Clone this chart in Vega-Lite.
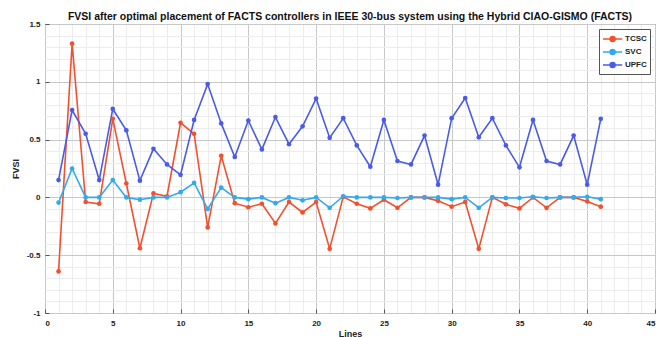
{
  "$schema": "https://vega.github.io/schema/vega-lite/v6.json",
  "autosize": "none",
  "width": 610,
  "height": 289,
  "padding": {"left": 45, "top": 24, "right": 17, "bottom": 24},
  "background": "white",
  "config": {
    "font": "Liberation Sans",
    "view": {"stroke": "#444", "strokeWidth": 1}
  },
  "title": {
    "text": "FVSI after optimal placement of FACTS controllers in IEEE 30-bus system using the Hybrid CIAO-GISMO (FACTS)",
    "fontSize": 10.5,
    "fontWeight": "bold",
    "color": "#111",
    "offset": -2
  },
  "data": {
    "values": [
      {"line": 1, "series": "TCSC", "fvsi": -0.64},
      {"line": 2, "series": "TCSC", "fvsi": 1.33},
      {"line": 3, "series": "TCSC", "fvsi": -0.04},
      {"line": 4, "series": "TCSC", "fvsi": -0.055},
      {"line": 5, "series": "TCSC", "fvsi": 0.68},
      {"line": 6, "series": "TCSC", "fvsi": 0.12},
      {"line": 7, "series": "TCSC", "fvsi": -0.44},
      {"line": 8, "series": "TCSC", "fvsi": 0.035},
      {"line": 9, "series": "TCSC", "fvsi": 0.01},
      {"line": 10, "series": "TCSC", "fvsi": 0.645},
      {"line": 11, "series": "TCSC", "fvsi": 0.55},
      {"line": 12, "series": "TCSC", "fvsi": -0.26},
      {"line": 13, "series": "TCSC", "fvsi": 0.36},
      {"line": 14, "series": "TCSC", "fvsi": -0.05},
      {"line": 15, "series": "TCSC", "fvsi": -0.085},
      {"line": 16, "series": "TCSC", "fvsi": -0.055},
      {"line": 17, "series": "TCSC", "fvsi": -0.225},
      {"line": 18, "series": "TCSC", "fvsi": -0.04},
      {"line": 19, "series": "TCSC", "fvsi": -0.13},
      {"line": 20, "series": "TCSC", "fvsi": -0.04},
      {"line": 21, "series": "TCSC", "fvsi": -0.445},
      {"line": 22, "series": "TCSC", "fvsi": 0.005},
      {"line": 23, "series": "TCSC", "fvsi": -0.055},
      {"line": 24, "series": "TCSC", "fvsi": -0.095},
      {"line": 25, "series": "TCSC", "fvsi": -0.02},
      {"line": 26, "series": "TCSC", "fvsi": -0.09},
      {"line": 27, "series": "TCSC", "fvsi": 0.0},
      {"line": 28, "series": "TCSC", "fvsi": 0.0},
      {"line": 29, "series": "TCSC", "fvsi": -0.03},
      {"line": 30, "series": "TCSC", "fvsi": -0.08},
      {"line": 31, "series": "TCSC", "fvsi": -0.04},
      {"line": 32, "series": "TCSC", "fvsi": -0.445},
      {"line": 33, "series": "TCSC", "fvsi": 0.0},
      {"line": 34, "series": "TCSC", "fvsi": -0.06},
      {"line": 35, "series": "TCSC", "fvsi": -0.095},
      {"line": 36, "series": "TCSC", "fvsi": 0.0},
      {"line": 37, "series": "TCSC", "fvsi": -0.09},
      {"line": 38, "series": "TCSC", "fvsi": 0.0},
      {"line": 39, "series": "TCSC", "fvsi": 0.0},
      {"line": 40, "series": "TCSC", "fvsi": -0.035},
      {"line": 41, "series": "TCSC", "fvsi": -0.08},
      {"line": 1, "series": "SVC", "fvsi": -0.045},
      {"line": 2, "series": "SVC", "fvsi": 0.25},
      {"line": 3, "series": "SVC", "fvsi": 0.0},
      {"line": 4, "series": "SVC", "fvsi": 0.0},
      {"line": 5, "series": "SVC", "fvsi": 0.15},
      {"line": 6, "series": "SVC", "fvsi": 0.0},
      {"line": 7, "series": "SVC", "fvsi": -0.02},
      {"line": 8, "series": "SVC", "fvsi": 0.0},
      {"line": 9, "series": "SVC", "fvsi": 0.0},
      {"line": 10, "series": "SVC", "fvsi": 0.045},
      {"line": 11, "series": "SVC", "fvsi": 0.125},
      {"line": 12, "series": "SVC", "fvsi": -0.1},
      {"line": 13, "series": "SVC", "fvsi": 0.085},
      {"line": 14, "series": "SVC", "fvsi": 0.0},
      {"line": 15, "series": "SVC", "fvsi": -0.015},
      {"line": 16, "series": "SVC", "fvsi": 0.0},
      {"line": 17, "series": "SVC", "fvsi": -0.05},
      {"line": 18, "series": "SVC", "fvsi": 0.0},
      {"line": 19, "series": "SVC", "fvsi": -0.025},
      {"line": 20, "series": "SVC", "fvsi": 0.0},
      {"line": 21, "series": "SVC", "fvsi": -0.09},
      {"line": 22, "series": "SVC", "fvsi": 0.01},
      {"line": 23, "series": "SVC", "fvsi": 0.0},
      {"line": 24, "series": "SVC", "fvsi": 0.0},
      {"line": 25, "series": "SVC", "fvsi": 0.0},
      {"line": 26, "series": "SVC", "fvsi": -0.005},
      {"line": 27, "series": "SVC", "fvsi": 0.0},
      {"line": 28, "series": "SVC", "fvsi": 0.0},
      {"line": 29, "series": "SVC", "fvsi": 0.0},
      {"line": 30, "series": "SVC", "fvsi": -0.015},
      {"line": 31, "series": "SVC", "fvsi": 0.0},
      {"line": 32, "series": "SVC", "fvsi": -0.09},
      {"line": 33, "series": "SVC", "fvsi": 0.0},
      {"line": 34, "series": "SVC", "fvsi": -0.005},
      {"line": 35, "series": "SVC", "fvsi": -0.005},
      {"line": 36, "series": "SVC", "fvsi": 0.005},
      {"line": 37, "series": "SVC", "fvsi": -0.005},
      {"line": 38, "series": "SVC", "fvsi": 0.0},
      {"line": 39, "series": "SVC", "fvsi": 0.0},
      {"line": 40, "series": "SVC", "fvsi": 0.005},
      {"line": 41, "series": "SVC", "fvsi": -0.015},
      {"line": 1, "series": "UPFC", "fvsi": 0.15},
      {"line": 2, "series": "UPFC", "fvsi": 0.755},
      {"line": 3, "series": "UPFC", "fvsi": 0.55},
      {"line": 4, "series": "UPFC", "fvsi": 0.15},
      {"line": 5, "series": "UPFC", "fvsi": 0.765},
      {"line": 6, "series": "UPFC", "fvsi": 0.58},
      {"line": 7, "series": "UPFC", "fvsi": 0.145},
      {"line": 8, "series": "UPFC", "fvsi": 0.42},
      {"line": 9, "series": "UPFC", "fvsi": 0.285},
      {"line": 10, "series": "UPFC", "fvsi": 0.195},
      {"line": 11, "series": "UPFC", "fvsi": 0.67},
      {"line": 12, "series": "UPFC", "fvsi": 0.98},
      {"line": 13, "series": "UPFC", "fvsi": 0.64},
      {"line": 14, "series": "UPFC", "fvsi": 0.35},
      {"line": 15, "series": "UPFC", "fvsi": 0.665},
      {"line": 16, "series": "UPFC", "fvsi": 0.415},
      {"line": 17, "series": "UPFC", "fvsi": 0.695},
      {"line": 18, "series": "UPFC", "fvsi": 0.46},
      {"line": 19, "series": "UPFC", "fvsi": 0.615},
      {"line": 20, "series": "UPFC", "fvsi": 0.855},
      {"line": 21, "series": "UPFC", "fvsi": 0.515},
      {"line": 22, "series": "UPFC", "fvsi": 0.685},
      {"line": 23, "series": "UPFC", "fvsi": 0.45},
      {"line": 24, "series": "UPFC", "fvsi": 0.265},
      {"line": 25, "series": "UPFC", "fvsi": 0.67},
      {"line": 26, "series": "UPFC", "fvsi": 0.315},
      {"line": 27, "series": "UPFC", "fvsi": 0.285},
      {"line": 28, "series": "UPFC", "fvsi": 0.535},
      {"line": 29, "series": "UPFC", "fvsi": 0.11},
      {"line": 30, "series": "UPFC", "fvsi": 0.685},
      {"line": 31, "series": "UPFC", "fvsi": 0.86},
      {"line": 32, "series": "UPFC", "fvsi": 0.52},
      {"line": 33, "series": "UPFC", "fvsi": 0.685},
      {"line": 34, "series": "UPFC", "fvsi": 0.45},
      {"line": 35, "series": "UPFC", "fvsi": 0.26},
      {"line": 36, "series": "UPFC", "fvsi": 0.67},
      {"line": 37, "series": "UPFC", "fvsi": 0.315},
      {"line": 38, "series": "UPFC", "fvsi": 0.285},
      {"line": 39, "series": "UPFC", "fvsi": 0.535},
      {"line": 40, "series": "UPFC", "fvsi": 0.11},
      {"line": 41, "series": "UPFC", "fvsi": 0.68}
    ]
  },
  "mark": {
    "type": "line",
    "strokeWidth": 1.6,
    "point": {"filled": true, "size": 22}
  },
  "encoding": {
    "x": {
      "field": "line",
      "type": "quantitative",
      "title": "Lines",
      "scale": {"domain": [0, 45], "nice": false, "zero": false},
      "axis": {
        "values": [0,1,2,3,4,5,6,7,8,9,10,11,12,13,14,15,16,17,18,19,20,21,22,23,24,25,26,27,28,29,30,31,32,33,34,35,36,37,38,39,40,41,42,43,44,45],
        "labelExpr": "datum.value % 5 === 0 ? datum.value : ''",
        "labelFontSize": 8,
        "labelFontWeight": "bold",
        "labelColor": "#222",
        "labelPadding": 10,
        "domain": false,
        "ticks": true,
        "tickSize": -4,
        "tickColor": {"condition": {"test": "datum.value % 5 === 0", "value": "#555"}, "value": "transparent"},
        "gridColor": {"condition": {"test": "datum.value % 5 === 0", "value": "#c8c8c8"}, "value": "#ececec"},
        "gridWidth": 1,
        "titleFontSize": 9,
        "titleFontWeight": "bold",
        "titleColor": "#222",
        "titlePadding": 2
      }
    },
    "y": {
      "field": "fvsi",
      "type": "quantitative",
      "title": "FVSI",
      "scale": {"domain": [-1, 1.5], "nice": false, "zero": false},
      "axis": {
        "values": [-1,-0.9,-0.8,-0.7,-0.6,-0.5,-0.4,-0.3,-0.2,-0.1,0,0.1,0.2,0.3,0.4,0.5,0.6,0.7,0.8,0.9,1,1.1,1.2,1.3,1.4,1.5],
        "labelExpr": "abs(datum.value*2 - round(datum.value*2)) < 0.000001 ? replace(format(datum.value, '~g'), '\u2212', '-') : ''",
        "labelFontSize": 8,
        "labelFontWeight": "bold",
        "labelColor": "#222",
        "labelPadding": 9,
        "domain": false,
        "ticks": true,
        "tickSize": -4,
        "tickColor": {"condition": {"test": "abs(datum.value*2 - round(datum.value*2)) < 0.000001", "value": "#555"}, "value": "transparent"},
        "gridColor": {"condition": {"test": "abs(datum.value*2 - round(datum.value*2)) < 0.000001", "value": "#c8c8c8"}, "value": "#ececec"},
        "gridWidth": 1,
        "titleFontSize": 9,
        "titleFontWeight": "bold",
        "titleColor": "#222",
        "titlePadding": 6
      }
    },
    "color": {
      "field": "series",
      "type": "nominal",
      "scale": {"domain": ["TCSC", "SVC", "UPFC"], "range": ["#f2502e", "#33a9ee", "#4a5ce6"]},
      "legend": {
        "title": null,
        "orient": "top-right",
        "offset": 5,
        "labelFontSize": 8,
        "labelFontWeight": "bold",
        "labelColor": "#222",
        "strokeColor": "#555",
        "fillColor": "white",
        "padding": 3,
        "rowPadding": -1,
        "symbolType": "M-1,0L2.2,0M0.18,0A0.42,0.42 0 1,0 1.02,0A0.42,0.42 0 1,0 0.18,0Z",
        "symbolSize": 144,
        "symbolStrokeWidth": 1.5,
        "labelOffset": 9
      }
    }
  }
}
